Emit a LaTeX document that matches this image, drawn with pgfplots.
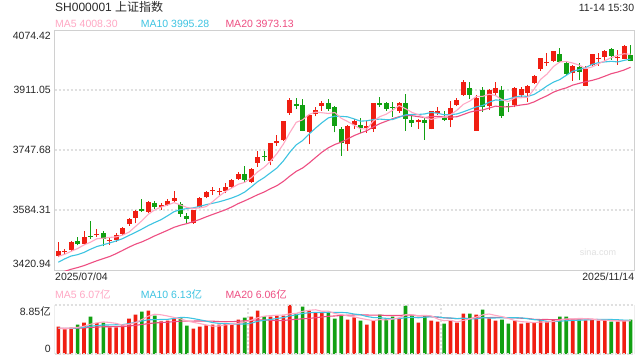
\documentclass[border=0pt]{standalone}
\usepackage{fontspec}
\setmainfont{Liberation Sans}
\newfontfamily\cjk{Noto Sans CJK SC}
\usepackage{pgfplots}
\pgfplotsset{compat=1.18}
\definecolor{cred}{RGB}{240,30,18}
\definecolor{cgreen}{RGB}{18,160,18}
\definecolor{cma5}{RGB}{255,168,196}
\definecolor{cma10}{RGB}{62,196,226}
\definecolor{cma20}{RGB}{238,78,130}
\definecolor{gridc}{RGB}{224,224,224}
\definecolor{bordc}{RGB}{208,208,208}
\definecolor{txt}{RGB}{40,40,40}
\pgfplotsset{
  kpanel/.style={scale only axis, width=579.6pt, xmin=-0.56, xmax=89.58,
    major tick length=0pt, clip=true, unbounded coords=jump,
    grid style={gridc, line width=1.6pt, dash pattern=on 2pt off 2pt}},
  maline/.style={line width=1.1pt, mark=none}
}
\begin{document}
\begin{tikzpicture}[x=1pt,y=1pt,font=\fontsize{10.5}{12}\selectfont]
\fill[white] (0,0) rectangle (640,360);
\path[use as bounding box] (0,0) rectangle (640,360);

% ---------------- main (price) panel ----------------
\begin{axis}[kpanel, at={(54.7pt,90pt)}, anchor=south west, height=240pt,
  ymin=3420.94, ymax=4074.42, xtick=\empty,
  ytick={3584.31,3747.68,3911.05}, yticklabels={}, ymajorgrids,
  axis line style={draw=bordc, line width=0.8pt}]
% red wicks (low, high)
\addplot[cred, line width=1pt] coordinates {
(0,3455)(0,3498)(0,nan) (1,3464)(1,3478)(1,nan) (2,3472)(2,3500)(2,nan) (4,3490)(4,3528)(4,nan)
(6,3512)(6,3532)(6,nan) (8,3490)(8,3510)(8,nan) (9,3498)(9,3521)(9,nan) (10,3517)(10,3537)(10,nan)
(11,3542)(11,3562)(11,nan) (12,3548)(12,3585)(12,nan) (14,3577)(14,3608)(14,nan) (16,3585)(16,3603)(16,nan)
(17,3596)(17,3613)(17,nan) (18,3607)(18,3637)(18,nan) (21,3547)(21,3585)(21,nan) (22,3590)(22,3620)(22,nan)
(23,3616)(23,3636)(23,nan) (24,3625)(24,3648)(24,nan) (25,3625)(25,3645)(25,nan) (26,3630)(26,3657)(26,nan)
(27,3645)(27,3668)(27,nan) (28,3667)(28,3689)(28,nan) (30,3658)(30,3698)(30,nan) (31,3702)(31,3746)(31,nan)
(33,3706)(33,3767)(33,nan) (34,3759)(34,3788)(34,nan) (35,3772)(35,3827)(35,nan) (36,3843)(36,3888)(36,nan)
(39,3763)(39,3845)(39,nan) (40,3839)(40,3866)(40,nan) (41,3855)(41,3881)(41,nan) (45,3746)(45,3815)(45,nan)
(46,3805)(46,3831)(46,nan) (48,3795)(48,3827)(48,nan) (49,3798)(49,3877)(49,nan) (53,3849)(53,3878)(53,nan)
(56,3806)(56,3831)(56,nan) (58,3804)(58,3855)(58,nan) (59,3843)(59,3866)(59,nan) (61,3809)(61,3880)(61,nan)
(62,3867)(62,3888)(62,nan) (63,3895)(63,3938)(63,nan) (65,3800)(65,3898)(65,nan) (67,3857)(67,3913)(67,nan)
(68,3898)(68,3933)(68,nan) (71,3864)(71,3918)(71,nan) (72,3893)(72,3918)(72,nan) (73,3878)(73,3926)(73,nan)
(74,3927)(74,3953)(74,nan) (75,3964)(75,3999)(75,nan) (76,3977)(76,4012)(76,nan) (77,3988)(77,4018)(77,nan)
(80,3936)(80,3978)(80,nan) (82,3922)(82,3976)(82,nan) (83,3976)(83,4010)(83,nan) (84,3977)(84,4012)(84,nan)
(85,3991)(85,4020)(85,nan) (87,3980)(87,4019)(87,nan) (88,3995)(88,4034)(88,nan)
};
% green wicks (low, high)
\addplot[cgreen, line width=1pt] coordinates {
(3,3488)(3,3512)(3,nan) (5,3506)(5,3555)(5,nan) (7,3485)(7,3527)(7,nan) (13,3579)(13,3613)(13,nan)
(15,3588)(15,3610)(15,nan) (19,3566)(19,3606)(19,nan) (20,3550)(20,3577)(20,nan) (29,3661)(29,3704)(29,nan)
(32,3719)(32,3746)(32,nan) (37,3859)(37,3888)(37,nan) (38,3799)(38,3887)(38,nan) (42,3855)(42,3886)(42,nan)
(43,3796)(43,3868)(43,nan) (44,3732)(44,3811)(44,nan) (47,3793)(47,3834)(47,nan) (50,3866)(50,3893)(50,nan)
(51,3855)(51,3879)(51,nan) (52,3838)(52,3878)(52,nan) (54,3800)(54,3900)(54,nan) (55,3811)(55,3841)(55,nan)
(57,3775)(57,3838)(57,nan) (60,3826)(60,3855)(60,nan) (64,3887)(64,3934)(64,nan) (66,3852)(66,3918)(66,nan)
(69,3835)(69,3921)(69,nan) (70,3850)(70,3876)(70,nan) (78,3985)(78,4025)(78,nan) (79,3952)(79,3989)(79,nan)
(81,3937)(81,3985)(81,nan) (86,3993)(86,4025)(86,nan) (89,3989)(89,4034)(89,nan)
};
% red bodies (open, close)
\addplot[cred, line width=5pt] coordinates {
(0,3459)(0,3472.3)(0,nan) (1,3470)(1,3473.1)(1,nan) (2,3475)(2,3497.5)(2,nan) (4,3492)(4,3509.7)(4,nan)
(6,3516)(6,3519.7)(6,nan) (8,3500)(8,3503.8)(8,nan) (9,3503)(9,3516.8)(9,nan) (10,3520)(10,3534.5)(10,nan)
(11,3545)(11,3559.8)(11,nan) (12,3563)(12,3581.9)(12,nan) (14,3580)(14,3605.7)(14,nan) (16,3593)(16,3597.9)(16,nan)
(17,3598)(17,3609.7)(17,nan) (18,3610)(18,3615.7)(18,nan) (21,3548)(21,3583.3)(21,nan) (22,3593)(22,3617.6)(22,nan)
(23,3619)(23,3634.0)(23,nan) (24,3636)(24,3639.7)(24,nan) (25,3632)(25,3635.1)(25,nan) (26,3637)(26,3647.6)(26,nan)
(27,3648)(27,3665.9)(27,nan) (28,3670)(28,3683.5)(28,nan) (30,3661)(30,3696.8)(30,nan) (31,3713)(31,3728.0)(31,nan)
(33,3719)(33,3766.2)(33,nan) (34,3766)(34,3771.1)(34,nan) (35,3774)(35,3825.8)(35,nan) (36,3849)(36,3883.6)(36,nan)
(39,3797)(39,3843.6)(39,nan) (40,3845)(40,3857.9)(40,nan) (41,3868)(41,3875.5)(41,nan) (45,3763)(45,3812.5)(45,nan)
(46,3815)(46,3826.8)(46,nan) (48,3808)(48,3812.2)(48,nan) (49,3805)(49,3875.3)(49,nan) (53,3854)(53,3876.3)(53,nan)
(56,3823)(56,3828.6)(56,nan) (58,3805)(58,3853.6)(58,nan) (59,3849)(59,3853.3)(59,nan) (61,3830)(61,3862.5)(61,nan)
(62,3870)(62,3882.8)(62,nan) (63,3898)(63,3934.0)(63,nan) (65,3800)(65,3889.5)(65,nan) (67,3868)(67,3912.2)(67,nan)
(68,3902)(68,3916.2)(68,nan) (71,3869)(71,3916.3)(71,nan) (72,3898)(72,3913.8)(72,nan) (73,3903)(73,3922.4)(73,nan)
(74,3930)(74,3950.3)(74,nan) (75,3969)(75,3996.9)(75,nan) (76,3985)(76,3988.2)(76,nan) (77,3991)(77,4016.3)(77,nan)
(80,3957)(80,3976.5)(80,nan) (82,3923)(82,3969.3)(82,nan) (83,3980)(83,4007.8)(83,nan) (84,3995)(84,3997.6)(84,nan)
(85,4002)(85,4018.6)(85,nan) (87,3997)(87,4000.1)(87,nan) (88,3996)(88,4029.5)(88,nan)
};
% green bodies (open, close)
\addplot[cgreen, line width=5pt] coordinates {
(3,3500)(3,3493.1)(3,nan) (5,3513)(5,3510.2)(5,nan) (7,3521)(7,3505.0)(7,nan) (13,3587)(13,3582.3)(13,nan)
(15,3604)(15,3593.7)(15,nan) (19,3602)(19,3573.2)(19,nan) (20,3569)(20,3560.0)(20,nan) (29,3683)(29,3666.4)(29,nan)
(32,3730)(32,3727.3)(32,nan) (37,3873)(37,3868.4)(37,nan) (38,3870)(38,3800.4)(38,nan) (42,3877)(42,3858.1)(42,nan)
(43,3864)(43,3813.6)(43,nan) (44,3806)(44,3765.9)(44,nan) (47,3816)(47,3807.3)(47,nan) (50,3875)(50,3870.6)(50,nan)
(51,3876)(51,3860.5)(51,nan) (52,3865)(52,3861.9)(52,nan) (54,3876)(54,3831.7)(54,nan) (55,3829)(55,3820.1)(55,nan)
(57,3829)(57,3821.8)(57,nan) (60,3836)(60,3828.1)(60,nan) (64,3916)(64,3897.0)(64,nan) (66,3910)(66,3865.2)(66,nan)
(69,3912)(69,3839.8)(69,nan) (70,3867)(70,3863.9)(70,nan) (78,4009)(78,3986.9)(78,nan) (79,3985)(79,3954.8)(79,nan)
(81,3974)(81,3960.2)(81,nan) (86,4022)(86,4002.8)(86,nan) (89,4006)(89,3990.5)(89,nan)
};
% MA20
\addplot[maline, cma20] coordinates {
(0,3413.7)(1,3417.4)(2,3423.0)(3,3427.6)(4,3432.9)(5,3439.6)(6,3446.1)(7,3452.0)(8,3457.8)(9,3465.5)
(10,3474.2)(11,3483.2)(12,3491.2)(13,3497.5)(14,3505.4)(15,3513.9)(16,3521.5)(17,3529.1)(18,3537.2)(19,3542.8)
(20,3547.2)(21,3552.7)(22,3558.7)(23,3565.7)(24,3572.2)(25,3578.5)(26,3584.9)(27,3592.9)(28,3601.9)(29,3609.4)
(30,3617.5)(31,3625.9)(32,3633.2)(33,3642.4)(34,3650.6)(35,3662.2)(36,3676.5)(37,3689.5)(38,3698.7)(39,3712.2)
(40,3727.1)(41,3741.7)(42,3753.7)(43,3762.7)(44,3769.0)(45,3777.9)(46,3786.9)(47,3793.9)(48,3800.4)(49,3810.8)
(50,3819.5)(51,3826.1)(52,3832.9)(53,3838.4)(54,3841.4)(55,3841.1)(56,3838.4)(57,3836.0)(58,3838.7)(59,3839.2)
(60,3837.7)(61,3837.0)(62,3838.3)(63,3844.3)(64,3850.8)(65,3854.7)(66,3856.6)(67,3861.9)(68,3867.1)(69,3865.3)
(70,3865.0)(71,3867.7)(72,3870.3)(73,3872.6)(74,3878.6)(75,3887.4)(76,3895.4)(77,3905.1)(78,3911.8)(79,3916.9)
(80,3924.3)(81,3929.2)(82,3933.5)(83,3937.2)(84,3942.2)(85,3948.7)(86,3955.5)(87,3959.9)(88,3965.6)(89,3973.1)
};
% MA10
\addplot[maline, cma10] coordinates {
(0,3442.1)(1,3451.3)(2,3459.0)(3,3462.7)(4,3468.8)(5,3477.4)(6,3484.9)(7,3489.7)(8,3494.6)(9,3500.1)
(10,3506.3)(11,3515.0)(12,3523.5)(13,3532.4)(14,3542.0)(15,3550.3)(16,3558.1)(17,3568.6)(18,3579.8)(19,3585.4)
(20,3588.0)(21,3590.3)(22,3593.9)(23,3599.1)(24,3602.5)(25,3606.6)(26,3611.6)(27,3617.2)(28,3624.0)(29,3633.3)
(30,3647.0)(31,3661.5)(32,3672.4)(33,3685.7)(34,3698.8)(35,3717.9)(36,3741.5)(37,3761.7)(38,3773.4)(39,3791.1)
(40,3807.2)(41,3822.0)(42,3835.1)(43,3839.8)(44,3839.3)(45,3838.0)(46,3832.3)(47,3826.2)(48,3827.3)(49,3830.5)
(50,3831.8)(51,3830.3)(52,3830.7)(53,3836.9)(54,3843.5)(55,3844.3)(56,3844.5)(57,3845.9)(58,3850.0)(59,3847.8)
(60,3843.6)(61,3843.8)(62,3845.9)(63,3851.7)(64,3858.2)(65,3865.1)(66,3868.8)(67,3877.8)(68,3884.1)(69,3882.7)
(70,3886.3)(71,3891.7)(72,3894.8)(73,3893.6)(74,3899.0)(75,3909.7)(76,3922.0)(77,3932.4)(78,3939.5)(79,3951.0)
(80,3962.2)(81,3966.6)(82,3972.2)(83,3980.7)(84,3985.5)(85,3987.6)(86,3989.1)(87,3987.5)(88,3991.7)(89,3995.3)
};
% MA5
\addplot[maline, cma5] coordinates {
(0,3458.1)(1,3463.8)(2,3471.8)(3,3479.4)(4,3489.1)(5,3496.7)(6,3506.0)(7,3507.5)(8,3509.7)(9,3511.1)
(10,3516.0)(11,3524.0)(12,3539.4)(13,3555.1)(14,3572.8)(15,3584.7)(16,3592.3)(17,3597.9)(18,3604.5)(19,3598.0)
(20,3591.3)(21,3588.4)(22,3590.0)(23,3593.6)(24,3606.9)(25,3621.9)(26,3634.8)(27,3644.5)(28,3654.4)(29,3659.7)
(30,3672.0)(31,3688.1)(32,3700.4)(33,3716.9)(34,3737.9)(35,3763.7)(36,3794.8)(37,3823.0)(38,3829.9)(39,3844.4)
(40,3850.8)(41,3849.2)(42,3847.1)(43,3849.7)(44,3834.2)(45,3825.1)(46,3815.4)(47,3805.2)(48,3804.9)(49,3826.8)
(50,3838.4)(51,3845.2)(52,3856.1)(53,3868.9)(54,3860.2)(55,3850.1)(56,3843.7)(57,3835.7)(58,3831.2)(59,3835.5)
(60,3837.1)(61,3843.9)(62,3856.1)(63,3872.1)(64,3880.9)(65,3893.2)(66,3893.7)(67,3899.6)(68,3896.0)(69,3884.6)
(70,3879.5)(71,3889.7)(72,3890.0)(73,3891.2)(74,3913.3)(75,3939.9)(76,3954.3)(77,3974.8)(78,3987.7)(79,3988.6)
(80,3984.5)(81,3978.9)(82,3969.5)(83,3973.7)(84,3982.3)(85,3990.7)(86,3999.2)(87,4005.4)(88,4009.7)(89,4008.3)
};
\end{axis}

% ---------------- volume panel ----------------
\begin{axis}[kpanel, at={(54.7pt,6pt)}, anchor=south west, height=49pt,
  ymin=0, ymax=8.85, ytick=\empty, xtick={29.5,59.5}, xticklabels={}, xmajorgrids,
  axis line style={draw=none}]
\addplot[ybar, bar width=3.6pt, bar shift=0pt, fill=cred, draw=none] coordinates {
(0,4.94)(1,4.45)(2,4.76)(4,5.66)(6,5.60)(8,4.82)(9,4.82)(10,5.18)(11,6.38)(12,7.10)(14,7.83)(16,5.90)
(17,6.02)(18,6.38)(21,4.58)(22,4.94)(23,5.18)(24,5.30)(25,5.30)(26,5.60)(27,5.36)(28,6.20)(30,6.74)(31,7.83)
(33,6.74)(34,6.92)(35,6.92)(36,8.85)(39,7.83)(40,7.46)(41,7.46)(45,6.20)(46,6.62)(48,5.30)(49,6.02)(53,6.50)
(56,5.66)(58,6.02)(59,5.84)(61,6.02)(62,5.66)(63,7.28)(65,7.10)(67,6.44)(68,6.02)(71,6.02)(72,5.48)(73,5.66)
(74,5.60)(75,6.20)(76,5.84)(77,6.20)(80,6.20)(82,6.08)(83,6.20)(84,6.02)(85,6.08)(87,5.84)(88,6.02)
};
\addplot[ybar, bar width=3.6pt, bar shift=0pt, fill=cgreen, draw=none] coordinates {
(3,5.30)(5,6.74)(7,5.66)(13,7.65)(15,6.92)(19,6.50)(20,5.12)(29,6.56)(32,6.80)(37,7.28)(38,8.55)(42,7.40)
(43,6.38)(44,6.98)(47,6.02)(50,7.10)(51,6.38)(52,6.74)(54,8.73)(55,6.98)(57,7.04)(60,5.48)(64,7.28)(66,8.01)
(69,6.20)(70,5.48)(78,6.74)(79,6.74)(81,6.20)(86,5.84)(89,6.20)
};
% volume MA20
\addplot[maline, cma20] coordinates {
(0,4.62)(1,4.61)(2,4.62)(3,4.65)(4,4.71)(5,4.81)(6,4.86)(7,4.92)(8,4.93)(9,4.94)
(10,4.97)(11,5.06)(12,5.18)(13,5.33)(14,5.49)(15,5.61)(16,5.68)(17,5.75)(18,5.84)(19,5.93)
(20,5.94)(21,5.95)(22,5.96)(23,5.95)(24,5.93)(25,5.86)(26,5.86)(27,5.84)(28,5.91)(29,6.00)
(30,6.08)(31,6.15)(32,6.14)(33,6.09)(34,6.04)(35,6.04)(36,6.19)(37,6.26)(38,6.36)(39,6.43)
(40,6.55)(41,6.69)(42,6.81)(43,6.87)(44,6.96)(45,7.00)(46,7.05)(47,7.09)(48,7.04)(49,7.02)
(50,7.03)(51,6.96)(52,6.96)(53,6.95)(54,7.04)(55,7.04)(56,6.88)(57,6.87)(58,6.74)(59,6.64)
(60,6.54)(61,6.47)(62,6.38)(63,6.43)(64,6.44)(65,6.49)(66,6.56)(67,6.58)(68,6.62)(69,6.62)
(70,6.54)(71,6.53)(72,6.46)(73,6.42)(74,6.26)(75,6.22)(76,6.23)(77,6.19)(78,6.23)(79,6.27)
(80,6.31)(81,6.32)(82,6.34)(83,6.28)(84,6.22)(85,6.17)(86,6.06)(87,6.03)(88,6.03)(89,6.03)
};
% volume MA10
\addplot[maline, cma10] coordinates {
(0,4.63)(1,4.62)(2,4.64)(3,4.71)(4,4.81)(5,5.03)(6,5.13)(7,5.23)(8,5.25)(9,5.28)
(10,5.30)(11,5.49)(12,5.73)(13,5.96)(14,6.18)(15,6.20)(16,6.23)(17,6.26)(18,6.42)(19,6.59)
(20,6.58)(21,6.40)(22,6.18)(23,5.94)(24,5.68)(25,5.52)(26,5.49)(27,5.43)(28,5.41)(29,5.41)
(30,5.58)(31,5.90)(32,6.09)(33,6.24)(34,6.41)(35,6.57)(36,6.89)(37,7.08)(38,7.32)(39,7.45)
(40,7.52)(41,7.48)(42,7.54)(43,7.51)(44,7.51)(45,7.44)(46,7.22)(47,7.09)(48,6.77)(49,6.58)
(50,6.55)(51,6.44)(52,6.37)(53,6.39)(54,6.56)(55,6.64)(56,6.54)(57,6.65)(58,6.72)(59,6.70)
(60,6.54)(61,6.50)(62,6.39)(63,6.47)(64,6.33)(65,6.34)(66,6.57)(67,6.51)(68,6.51)(69,6.55)
(70,6.55)(71,6.55)(72,6.53)(73,6.37)(74,6.20)(75,6.11)(76,5.89)(77,5.87)(78,5.94)(79,6.00)
(80,6.07)(81,6.09)(82,6.15)(83,6.20)(84,6.24)(85,6.23)(86,6.23)(87,6.19)(88,6.12)(89,6.07)
};
% volume MA5
\addplot[maline, cma5] coordinates {
(0,4.67)(1,4.64)(2,4.67)(3,4.81)(4,5.02)(5,5.38)(6,5.61)(7,5.79)(8,5.70)(9,5.53)
(10,5.22)(11,5.37)(12,5.66)(13,6.23)(14,6.83)(15,7.18)(16,7.08)(17,6.86)(18,6.61)(19,6.34)
(20,5.98)(21,5.72)(22,5.50)(23,5.26)(24,5.02)(25,5.06)(26,5.26)(27,5.35)(28,5.55)(29,5.80)
(30,6.09)(31,6.54)(32,6.83)(33,6.93)(34,7.01)(35,7.04)(36,7.25)(37,7.34)(38,7.70)(39,7.89)
(40,7.99)(41,7.72)(42,7.74)(43,7.31)(44,7.14)(45,6.88)(46,6.72)(47,6.44)(48,6.22)(49,6.03)
(50,6.21)(51,6.16)(52,6.31)(53,6.55)(54,7.09)(55,7.07)(56,6.92)(57,6.98)(58,6.89)(59,6.31)
(60,6.01)(61,6.08)(62,5.80)(63,6.06)(64,6.34)(65,6.67)(66,7.07)(67,7.22)(68,6.97)(69,6.75)
(70,6.43)(71,6.03)(72,5.84)(73,5.77)(74,5.65)(75,5.79)(76,5.76)(77,5.90)(78,6.12)(79,6.34)
(80,6.34)(81,6.42)(82,6.39)(83,6.28)(84,6.14)(85,6.12)(86,6.04)(87,6.00)(88,5.96)(89,6.00)
};
\draw[bordc, line width=0.8pt] (rel axis cs:0,0) -- (rel axis cs:0,1);
\draw[bordc, line width=0.8pt] (rel axis cs:1,0) -- (rel axis cs:1,1);
\draw[gridc, line width=1.6pt, dash pattern=on 2pt off 2pt] (rel axis cs:0,1) -- (rel axis cs:1,1);
\draw[gridc, line width=1.6pt, dash pattern=on 2pt off 2pt] (rel axis cs:0,0) -- (rel axis cs:1,0);
\end{axis}

% ---------------- texts ----------------
\begin{scope}[every node/.style={inner sep=0pt}]
\node[anchor=base west, text=txt, font=\fontsize{12}{14}\selectfont] at (55,348.5) {SH000001 {\cjk 上证指数}};
\node[anchor=base east, text=txt] at (634.3,348.3) {11-14 15:30};
\node[anchor=base west, text=cma5] at (55,332.3) {MA5 4008.30};
\node[anchor=base west, text=cma10] at (140.7,332.3) {MA10 3995.28};
\node[anchor=base west, text=cma20] at (225.3,332.3) {MA20 3973.13};
\node[anchor=base east, text=txt] at (51,321) {4074.42};
\node[anchor=base east, text=txt] at (51,266.3) {3911.05};
\node[anchor=base east, text=txt] at (51,206.3) {3747.68};
\node[anchor=base east, text=txt] at (51,146.3) {3584.31};
\node[anchor=base east, text=txt] at (51,93) {3420.94};
\node[text=gridc, font=\fontsize{9}{10}\selectfont] at (598,108) {sina.com};
\node[anchor=base west, text=txt] at (55,79.5) {2025/07/04};
\node[anchor=base east, text=txt] at (634.3,79.5) {2025/11/14};
\node[anchor=base west, text=cma5] at (55,61.5) {MA5 6.07{\cjk 亿}};
\node[anchor=base west, text=cma10] at (140.7,61.5) {MA10 6.13{\cjk 亿}};
\node[anchor=base west, text=cma20] at (225.3,61.5) {MA20 6.06{\cjk 亿}};
\node[anchor=base east, text=txt] at (51,45) {8.85{\cjk 亿}};
\node[anchor=base east, text=txt] at (51,8) {0};
\end{scope}
\end{tikzpicture}
\end{document}
